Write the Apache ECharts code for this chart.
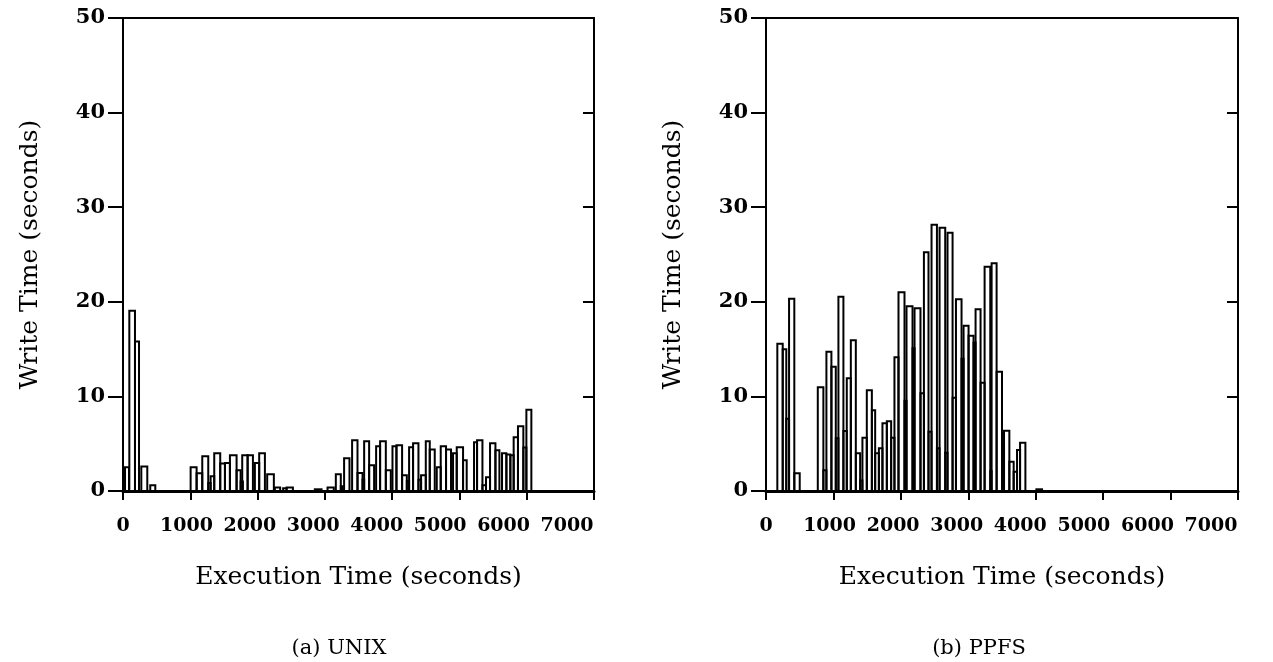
<!DOCTYPE html>
<html>
<head>
<meta charset="utf-8">
<script src="https://cdn.jsdelivr.net/npm/echarts@6/dist/echarts.min.js"></script>
<style>
html,body{margin:0;padding:0;background:#fff;}
#chart{width:1273px;height:662px;}
</style>
</head>
<body>
<div id="chart"></div>
<script>
// ---- Data (seconds) ----
var xTicks = [0, 1000, 2000, 3000, 4000, 5000, 6000, 7000];
var yTicks = [0, 10, 20, 30, 40, 50];

// (a) UNIX: bar interval start, end (execution time, s) and write time (s)
var unixStart = [30, 94, 178, 272, 405, 1005, 1094, 1178, 1267, 1302, 1356, 1445, 1515, 1589, 1688, 1748, 1772, 1852, 1960, 2024, 2143, 2257, 2380, 2431, 2851, 3040, 3163, 3237, 3286, 3405, 3485, 3560, 3584, 3658, 3762, 3821, 3906, 4005, 4064, 4148, 4218, 4252, 4311, 4391, 4430, 4500, 4559, 4663, 4722, 4801, 4905, 4960, 5054, 5217, 5262, 5342, 5395, 5455, 5535, 5633, 5698, 5757, 5806, 5870, 5950, 5995];
var unixEnd   = [89, 178, 238, 361, 480, 1094, 1178, 1267, 1302, 1356, 1445, 1515, 1589, 1688, 1748, 1782, 1852, 1931, 2024, 2109, 2242, 2336, 2431, 2525, 2951, 3133, 3237, 3267, 3366, 3485, 3560, 3584, 3658, 3732, 3821, 3906, 3980, 4064, 4148, 4218, 4252, 4311, 4391, 4430, 4500, 4559, 4633, 4722, 4801, 4875, 4960, 5054, 5108, 5262, 5342, 5395, 5455, 5535, 5594, 5698, 5757, 5806, 5870, 5950, 5995, 6069];
var unixWrite = [2.5, 19.06, 15.8, 2.6, 0.6, 2.5, 1.87, 3.67, 0.85, 1.55, 3.98, 2.92, 2.96, 3.77, 2.19, 1.0, 3.77, 3.77, 2.96, 3.98, 1.76, 0.38, 0.28, 0.38, 0.18, 0.38, 1.76, 0.5, 3.45, 5.36, 1.9, 1.2, 5.25, 2.71, 4.72, 5.25, 2.19, 4.72, 4.83, 1.66, 1.05, 4.62, 5.04, 1.2, 1.66, 5.25, 4.4, 2.5, 4.72, 4.4, 3.98, 4.62, 3.24, 5.15, 5.36, 0.6, 1.45, 5.04, 4.3, 3.98, 3.87, 3.77, 5.67, 6.84, 4.6, 8.6];

// (b) PPFS
var ppfsStart = [168, 248, 301, 342, 420, 768, 851, 896, 970, 1035, 1074, 1148, 1198, 1258, 1332, 1396, 1430, 1495, 1570, 1619, 1674, 1727, 1792, 1856, 1905, 1965, 2054, 2084, 2173, 2203, 2291, 2342, 2410, 2455, 2535, 2574, 2658, 2692, 2767, 2817, 2900, 2930, 3004, 3078, 3108, 3182, 3242, 3326, 3346, 3420, 3500, 3530, 3609, 3673, 3723, 3768, 4010];
var ppfsEnd   = [248, 301, 342, 420, 500, 851, 896, 970, 1035, 1074, 1148, 1198, 1258, 1332, 1396, 1430, 1495, 1570, 1619, 1674, 1727, 1792, 1856, 1905, 1965, 2054, 2084, 2173, 2203, 2291, 2342, 2410, 2455, 2535, 2574, 2658, 2692, 2767, 2817, 2900, 2930, 3004, 3078, 3108, 3182, 3242, 3326, 3346, 3420, 3500, 3530, 3609, 3673, 3723, 3768, 3847, 4094];
var ppfsWrite = [15.57, 14.98, 7.65, 20.33, 1.87, 10.96, 2.2, 14.73, 13.14, 5.57, 20.54, 6.34, 11.91, 15.93, 3.98, 1.1, 5.64, 10.64, 8.53, 3.98, 4.51, 7.15, 7.36, 5.64, 14.13, 21.0, 9.55, 19.52, 15.08, 19.31, 10.33, 25.23, 6.27, 28.15, 4.51, 27.83, 4.05, 27.31, 9.86, 20.26, 13.99, 17.48, 16.42, 15.7, 19.2, 11.45, 23.71, 2.1, 24.07, 12.61, 5.11, 6.38, 3.1, 2.04, 4.33, 5.11, 0.18];

var xName = 'Execution Time (seconds)';
var yName = 'Write Time (seconds)';
var captions = ['(a) UNIX', '(b) PPFS'];

// ---- Build ----
function rows(s, e, v) {
  var out = [];
  for (var i = 0; i < v.length; i++) out.push([s[i], e[i], v[i]]);
  return out;
}

var FONT = 'DejaVu Serif';
var lineStyle = {color: '#000', width: 2};
var X_MIN = xTicks[0], X_MAX = xTicks[xTicks.length - 1], X_INT = xTicks[1] - xTicks[0];
var Y_MIN = yTicks[0], Y_MAX = yTicks[yTicks.length - 1], Y_INT = yTicks[1] - yTicks[0];

function renderBar(params, api) {
  var p0 = api.coord([api.value(0), api.value(2)]);
  var p1 = api.coord([api.value(1), 0]);
  return {
    type: 'rect',
    shape: {x: p0[0], y: p0[1], width: p1[0] - p0[0], height: p1[1] - p0[1]},
    style: {fill: 'none', stroke: '#000', lineWidth: 2}
  };
}

function plain(v) { return String(v); }

// plot frame axes (grid gi) + tick-label axis (grid li)
function xAxes(gi, li) {
  return [{
    gridIndex: gi, type: 'value', position: 'bottom',
    min: X_MIN, max: X_MAX, interval: X_INT,
    name: xName, nameLocation: 'middle', nameGap: 74,
    nameTextStyle: {fontFamily: FONT, fontSize: 25, color: '#000'},
    axisLine: {show: true, onZero: false, lineStyle: {color: '#000', width: 3}},
    axisTick: {show: true, inside: false, length: 9, lineStyle: lineStyle},
    axisLabel: {show: false},
    splitLine: {show: false}
  }, {
    gridIndex: gi, type: 'value', position: 'top',
    min: X_MIN, max: X_MAX, interval: X_INT,
    axisLine: {show: true, onZero: false, lineStyle: lineStyle},
    axisTick: {show: false}, axisLabel: {show: false}, splitLine: {show: false}
  }, {
    gridIndex: li, type: 'value', position: 'bottom',
    min: X_MIN, max: X_MAX, interval: X_INT,
    axisLine: {show: false}, axisTick: {show: false}, splitLine: {show: false},
    axisLabel: {show: true, margin: 26, formatter: plain, fontFamily: FONT, fontWeight: 'bold', fontSize: 19, color: '#000'}
  }];
}
function yAxes(gi, li) {
  return [{
    gridIndex: gi, type: 'value', position: 'left',
    min: Y_MIN, max: Y_MAX, interval: Y_INT,
    name: yName, nameLocation: 'middle', nameGap: 80, nameRotate: 90,
    nameTextStyle: {fontFamily: FONT, fontSize: 25, color: '#000'},
    axisLine: {show: true, onZero: false, lineStyle: lineStyle},
    axisTick: {show: true, inside: false, length: 15, lineStyle: lineStyle},
    axisLabel: {show: true, margin: 18, formatter: plain, fontFamily: FONT, fontWeight: 'bold', fontSize: 21, color: '#000'},
    splitLine: {show: false}
  }, {
    gridIndex: gi, type: 'value', position: 'right',
    min: Y_MIN, max: Y_MAX, interval: Y_INT,
    axisLine: {show: true, onZero: false, lineStyle: lineStyle},
    axisTick: {show: true, inside: true, length: 11, lineStyle: lineStyle},
    axisLabel: {show: false}, splitLine: {show: false}
  }, {
    gridIndex: li, type: 'value', show: false, min: Y_MIN, max: Y_MAX
  }];
}

var chart = echarts.init(document.getElementById('chart'), null, {renderer: 'canvas'});
chart.setOption({
  animation: false,
  backgroundColor: '#fff',
  title: [
    {text: captions[0], left: 334, top: 633, textAlign: 'center',
     textStyle: {fontFamily: FONT, fontSize: 21, fontWeight: 'normal', color: '#000'}},
    {text: captions[1], left: 974, top: 633, textAlign: 'center',
     textStyle: {fontFamily: FONT, fontSize: 21, fontWeight: 'normal', color: '#000'}}
  ],
  grid: [
    {left: 123, top: 18, width: 471, height: 473},
    {left: 766, top: 18, width: 472, height: 473},
    {left: 123, top: 18, width: 444, height: 473},
    {left: 766, top: 18, width: 445, height: 473}
  ],
  xAxis: xAxes(0, 2).concat(xAxes(1, 3)),
  yAxis: yAxes(0, 2).concat(yAxes(1, 3)),
  series: [
    {type: 'custom', xAxisIndex: 0, yAxisIndex: 0, renderItem: renderBar,
     encode: {x: [0, 1], y: 2}, data: rows(unixStart, unixEnd, unixWrite)},
    {type: 'custom', xAxisIndex: 3, yAxisIndex: 3, renderItem: renderBar,
     encode: {x: [0, 1], y: 2}, data: rows(ppfsStart, ppfsEnd, ppfsWrite)}
  ]
});
</script>
</body>
</html>
